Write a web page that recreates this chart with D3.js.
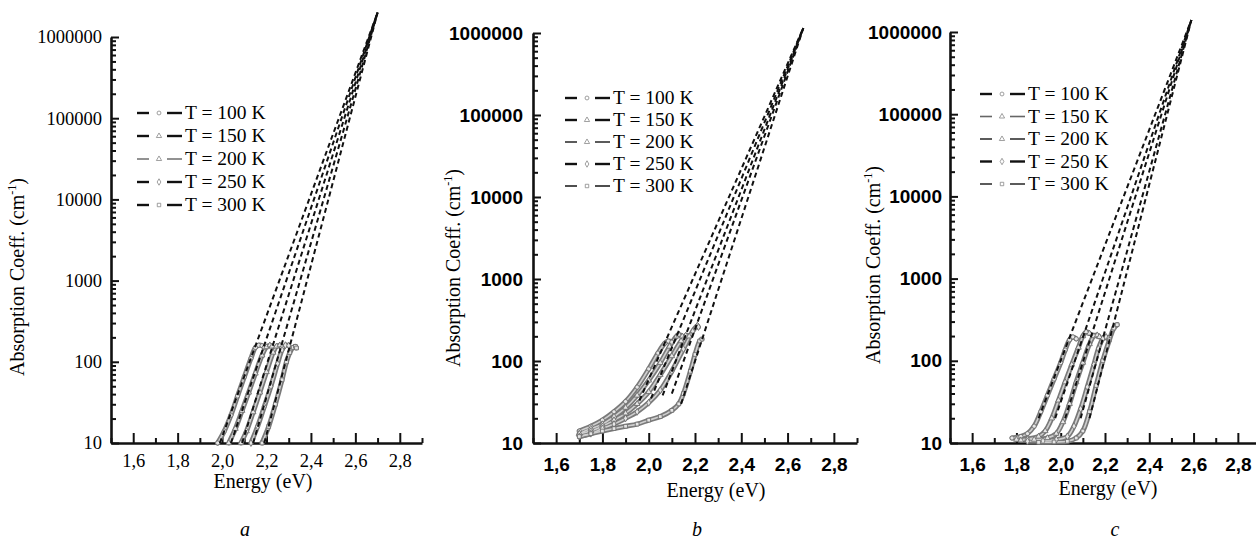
<!DOCTYPE html>
<html>
<head>
<meta charset="utf-8">
<script src="https://cdn.jsdelivr.net/npm/d3@7"></script>
<style>
  body { margin: 0; background: #fff; }
  svg { display: block; }
  .serif { font-family: "Liberation Serif", "DejaVu Serif", serif; }
  .sans { font-family: "Liberation Sans", Arial, sans-serif; }
</style>
</head>
<body>
<svg id="chart" width="1256" height="540"></svg>
<script>
// tick values and labels
var xTicks = [1.6, 1.8, 2.0, 2.2, 2.4, 2.6, 2.8];
var xMinor = [1.5, 1.7, 1.9, 2.1, 2.3, 2.5, 2.7, 2.9];
var yTicks = [10, 100, 1000, 10000, 100000, 1000000];
var temps = ["T = 100 K", "T = 150 K", "T = 200 K", "T = 250 K", "T = 300 K"];
var markers = ["circle", "triangle", "triangle", "diamond", "square"];
var captions = ["a", "b", "c"];

// measured curves, [energy eV, alpha cm-1], left to right
var curvesA = [
  [[1.98,10],[2.01,14],[2.04,22],[2.07,38],[2.10,65],[2.13,110],[2.15,150],[2.165,160],[2.18,158],[2.19,150]],
  [[2.03,10],[2.06,15],[2.09,25],[2.12,42],[2.15,72],[2.18,120],[2.20,152],[2.215,160],[2.225,155]],
  [[2.085,10],[2.11,14],[2.14,24],[2.17,42],[2.20,75],[2.23,130],[2.245,155],[2.26,160],[2.27,152]],
  [[2.13,10],[2.16,16],[2.19,28],[2.22,50],[2.25,95],[2.27,140],[2.285,160],[2.30,158]],
  [[2.18,10],[2.21,16],[2.24,30],[2.27,60],[2.29,100],[2.305,130],[2.32,150],[2.33,155],[2.335,148]]
];
var curvesB = [
  [[1.70,14],[1.75,16],[1.80,19],[1.85,24],[1.90,32],[1.95,48],[2.00,80],[2.04,125],[2.07,165],[2.085,175],[2.10,170]],
  [[1.70,13],[1.75,15],[1.80,17],[1.85,21],[1.90,27],[1.95,38],[2.00,58],[2.05,95],[2.09,150],[2.12,200],[2.13,210],[2.145,200]],
  [[1.70,13],[1.75,14],[1.80,16],[1.85,19],[1.90,23],[1.95,30],[2.00,42],[2.05,68],[2.10,115],[2.14,175],[2.16,205],[2.175,200]],
  [[1.70,12],[1.75,13],[1.80,15],[1.85,17],[1.90,20],[1.95,24],[2.00,31],[2.05,44],[2.10,75],[2.15,140],[2.19,230],[2.21,270],[2.215,260]],
  [[1.70,12],[1.75,13],[1.80,14],[1.85,15],[1.90,16],[1.95,17],[2.00,19],[2.05,21],[2.10,25],[2.13,30],[2.15,40],[2.18,75],[2.20,120],[2.22,175],[2.23,185]]
];
var curvesC = [
  [[1.78,11.5],[1.82,12],[1.85,13],[1.88,16],[1.91,24],[1.94,38],[1.97,60],[2.00,95],[2.02,135],[2.04,180],[2.055,195],[2.07,185]],
  [[1.80,11],[1.85,11.2],[1.90,12],[1.93,14],[1.96,20],[1.99,33],[2.02,55],[2.05,90],[2.08,145],[2.10,200],[2.115,225],[2.13,215]],
  [[1.82,10.8],[1.88,11],[1.94,11.5],[1.98,13],[2.01,18],[2.04,30],[2.07,55],[2.10,95],[2.13,160],[2.15,200],[2.165,205],[2.175,195]],
  [[1.85,10.5],[1.92,10.6],[1.98,11],[2.03,12],[2.06,16],[2.09,26],[2.12,48],[2.15,90],[2.17,140],[2.19,185],[2.205,195],[2.215,185]],
  [[1.90,10.2],[1.97,10.3],[2.03,10.5],[2.07,11.5],[2.10,14],[2.13,24],[2.16,50],[2.19,100],[2.22,180],[2.24,250],[2.255,275]]
];

// dashed linear (log) fits: start points and common end point
var fitStartA = [[1.99,10],[2.04,10],[2.09,10],[2.14,10],[2.19,10]];
var fitEndA = [2.70, 2000000];
var fitStartB = [[1.96,33],[2.01,35],[2.06,38],[2.10,40],[2.14,30]];
var fitEndB = [2.668, 1150000];
var fitStartC = [[1.90,20],[1.975,20],[2.02,20],[2.09,20],[2.13,20]];
var fitEndC = [2.59, 1400000];

var legendColors = [
  ["#111", "#111", "#777", "#111", "#111"],
  ["#111", "#111", "#333", "#111", "#222"],
  ["#111", "#666", "#333", "#111", "#333"]
];

// layout of the three panels
var layout = [
  {x0: 111, x1: 422, yBot: 443, yTop: 37, serif: true, yTitleX: 24, yTitleY: 277, eX: 263, eY: 488, capX: 245, capY: 536, legX: 137, legY: 113, legStep: 23, ypad: 9},
  {x0: 533, x1: 857, yBot: 443, yTop: 33, serif: false, yTitleX: 460, yTitleY: 268, eX: 716, eY: 497, capX: 697, capY: 536, legX: 565, legY: 98, legStep: 22, ypad: 10},
  {x0: 950, x1: 1260, yBot: 443, yTop: 32, serif: false, yTitleX: 880, yTitleY: 265, eX: 1108, eY: 495, capX: 1115, capY: 536, legX: 980, legY: 94, legStep: 22.5, ypad: 8}
];

var allCurves = [curvesA, curvesB, curvesC];
var allStarts = [fitStartA, fitStartB, fitStartC];
var allEnds = [fitEndA, fitEndB, fitEndC];

var svg = d3.select("#chart");

var symbolType = {
  circle: d3.symbolCircle, triangle: d3.symbolTriangle,
  diamond: d3.symbolDiamond, square: d3.symbolSquare
};

layout.forEach(function(L, p) {
  var g = svg.append("g");

  var x = d3.scaleLinear().domain([1.5, 2.9]).range([L.x0, L.x1]);
  var y = d3.scaleLog().domain([10, 1000000]).range([L.yBot, L.yTop]);

  var tickClass = L.serif ? "serif" : "sans";
  var tickWeight = L.serif ? "normal" : "bold";
  var tickSizePx = L.serif ? 18.5 : 19;

  // minor ticks
  var yMinor = y.ticks().filter(function(v) { return yTicks.indexOf(v) < 0; });
  g.append("g")
    .attr("transform", "translate(" + L.x0 + ",0)")
    .call(d3.axisLeft(y).tickValues(yMinor).tickSize(-5).tickFormat(""))
    .call(function(a) { a.select(".domain").remove(); });
  g.append("g")
    .attr("transform", "translate(0," + L.yBot + ")")
    .call(d3.axisBottom(x).tickValues(xMinor).tickSize(-5).tickFormat(""))
    .call(function(a) { a.select(".domain").remove(); });

  // major axes
  var yAxis = g.append("g")
    .attr("transform", "translate(" + L.x0 + ",0)")
    .call(d3.axisLeft(y).tickValues(yTicks).tickSize(-8).tickSizeOuter(0)
      .tickPadding(L.ypad).tickFormat(d3.format("d")));
  var xAxis = g.append("g")
    .attr("transform", "translate(0," + L.yBot + ")")
    .call(d3.axisBottom(x).tickValues(xTicks).tickSize(-10).tickSizeOuter(0)
      .tickPadding(L.serif ? 11 : 15)
      .tickFormat(function(d) { return d3.format(".1f")(d).replace(".", ","); }));

  [yAxis, xAxis].forEach(function(a) {
    a.attr("font-family", null);
    a.selectAll("text")
      .attr("class", tickClass)
      .attr("fill", "#000")
      .style("font-weight", tickWeight)
      .style("font-size", tickSizePx + "px");
  });
  g.selectAll(".domain").attr("stroke", "#111").attr("stroke-width", 2.6);
  g.selectAll(".tick line").attr("stroke", "#111").attr("stroke-width", 2);

  // measured curves
  var line = d3.line()
    .x(function(d) { return x(d[0]); })
    .y(function(d) { return y(d[1]); })
    .curve(d3.curveCatmullRom.alpha(0.5));

  var curves = allCurves[p];
  g.append("g").selectAll("path.meas")
    .data(curves)
    .enter().append("path")
    .attr("d", line)
    .attr("fill", "none")
    .attr("stroke", "#7a7a7a")
    .attr("stroke-width", 5)
    .attr("stroke-linejoin", "round")
    .attr("stroke-linecap", "round");
  g.append("g").selectAll("path.core")
    .data(curves)
    .enter().append("path")
    .attr("d", line)
    .attr("fill", "none")
    .attr("stroke", "#cfcfcf")
    .attr("stroke-width", 1.6);

  curves.forEach(function(c, i) {
    g.append("g").selectAll("path")
      .data(c)
      .enter().append("path")
      .attr("transform", function(d) { return "translate(" + x(d[0]) + "," + y(d[1]) + ")"; })
      .attr("d", d3.symbol().type(symbolType[markers[i]]).size(14))
      .attr("fill", "#e6e6e6")
      .attr("stroke", "#666")
      .attr("stroke-width", 0.8);
  });

  // dashed fits
  var starts = allStarts[p], end = allEnds[p];
  g.append("g").selectAll("line")
    .data(starts)
    .enter().append("line")
    .attr("x1", function(d) { return x(d[0]); })
    .attr("y1", function(d) { return y(d[1]); })
    .attr("x2", x(end[0]))
    .attr("y2", y(end[1]))
    .attr("stroke", "#111")
    .attr("stroke-width", 2)
    .attr("stroke-dasharray", "5,3.5");

  // legend
  var leg = g.append("g");
  temps.forEach(function(t, i) {
    var ly = L.legY + i * L.legStep;
    var col = legendColors[p][i];
    var w = col === "#111" ? 2.4 : 1.6;
    leg.append("line").attr("x1", L.legX).attr("x2", L.legX + 12)
      .attr("y1", ly).attr("y2", ly).attr("stroke", col).attr("stroke-width", w);
    leg.append("line").attr("x1", L.legX + 30).attr("x2", L.legX + 45)
      .attr("y1", ly).attr("y2", ly).attr("stroke", col).attr("stroke-width", w);
    leg.append("path")
      .attr("transform", "translate(" + (L.legX + 22) + "," + ly + ")")
      .attr("d", d3.symbol().type(symbolType[markers[i]]).size(12))
      .attr("fill", "none").attr("stroke", "#888").attr("stroke-width", 0.8);
    leg.append("text")
      .attr("class", "serif")
      .attr("x", L.legX + 48).attr("y", ly + 6)
      .style("font-size", "19.5px")
      .attr("fill", "#000")
      .text(t);
  });

  // axis titles
  var yt = g.append("text")
    .attr("class", "serif")
    .attr("transform", "translate(" + L.yTitleX + "," + L.yTitleY + ") rotate(-90)")
    .attr("text-anchor", "middle")
    .style("font-size", "20px")
    .attr("fill", "#000");
  yt.append("tspan").text("Absorption Coeff. (cm");
  yt.append("tspan").attr("dy", -8).style("font-size", "12px").text("-1");
  yt.append("tspan").attr("dy", 8).text(")");

  g.append("text")
    .attr("class", "serif")
    .attr("x", L.eX).attr("y", L.eY)
    .attr("text-anchor", "middle")
    .style("font-size", "20px")
    .attr("fill", "#000")
    .text("Energy (eV)");

  g.append("text")
    .attr("class", "serif")
    .attr("x", L.capX).attr("y", L.capY)
    .attr("text-anchor", "middle")
    .style("font-size", "20px")
    .style("font-style", "italic")
    .attr("fill", "#000")
    .text(captions[p]);
});
</script>
</body>
</html>
